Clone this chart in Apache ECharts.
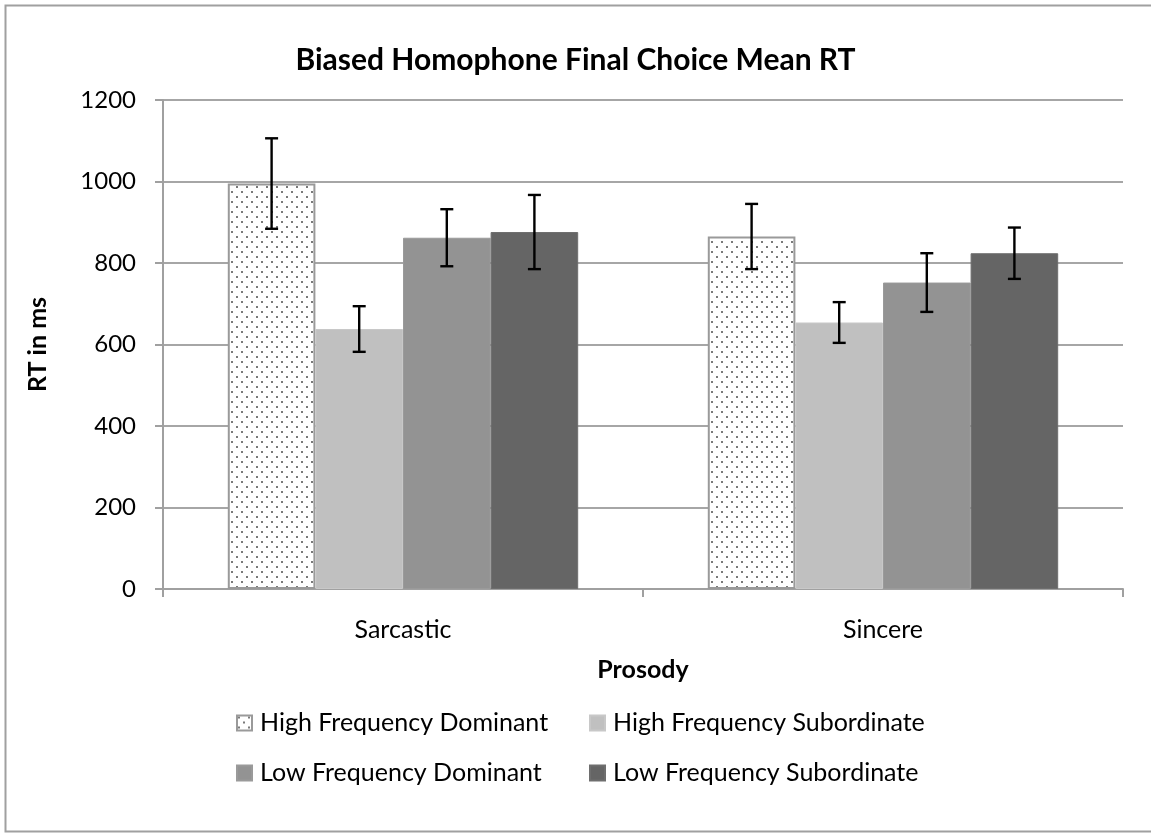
<!DOCTYPE html>
<html>
<head>
<meta charset="utf-8">
<script src="https://cdn.jsdelivr.net/npm/echarts@6/dist/echarts.min.js"></script>
<style>
html,body{margin:0;padding:0;background:#fff;}
#main{width:1151px;height:834px;}
</style>
</head>
<body>
<div id="main"></div>
<script>
// ---- data ----
const categories = ['Sarcastic', 'Sincere'];
const seriesNames = ['High Frequency Dominant', 'High Frequency Subordinate', 'Low Frequency Dominant', 'Low Frequency Subordinate'];
const hfdMean = [995, 865];
const hfsMean = [638, 654];
const lfdMean = [862, 752];
const lfsMean = [876, 824];
const hfdErr = [111, 80];
const hfsErr = [56, 50];
const lfdErr = [70, 72];
const lfsErr = [91, 63];
const yTicks = [0, 200, 400, 600, 800, 1000, 1200];

const means = [hfdMean, hfsMean, lfdMean, lfsMean];
const errs = [hfdErr, hfsErr, lfdErr, lfsErr];

const FONT = 'Lato, "Open Sans", sans-serif';

// dotted pattern
const pat = document.createElement('canvas');
pat.width = 10; pat.height = 10;
const pctx = pat.getContext('2d');
pctx.fillStyle = '#ffffff';
pctx.fillRect(0, 0, 10, 10);
pctx.fillStyle = '#7a7a7a';
pctx.fillRect(1, 1, 2, 2);
pctx.fillRect(6, 6, 2, 2);

const fills = [
  { image: pat, repeat: 'repeat' },
  '#c0c0c0',
  '#939393',
  '#656565'
];
const borders = ['#9a9a9a', '#c8c8c8', '#9a9a9a', '#6e6e6e'];

const CAT_GAP = 0.27;

const barSeries = seriesNames.map((name, i) => ({
  name: name,
  type: 'bar',
  data: means[i],
  barGap: '0%',
  barCategoryGap: (CAT_GAP * 100) + '%',
  itemStyle: {
    color: fills[i],
    borderColor: borders[i],
    borderWidth: i === 0 ? 2 : 1
  },
  z: 2
}));

const errData = [];
for (let s = 0; s < 4; s++) {
  for (let c = 0; c < categories.length; c++) {
    errData.push([c, means[s][c], errs[s][c], s]);
  }
}

const errSeries = {
  type: 'custom',
  name: 'err',
  data: errData,
  z: 10,
  silent: true,
  renderItem: function (params, api) {
    const c = api.value(0), m = api.value(1), e = api.value(2), s = api.value(3);
    const catW = api.size([1, 0])[0];
    const totalW = catW * (1 - CAT_GAP);
    const bw = totalW / 4;
    const center = api.coord([c, m]);
    const x = center[0] - totalW / 2 + bw * (s + 0.5);
    const top = api.coord([c, m + e])[1];
    const bot = api.coord([c, m - e])[1];
    const cap = 6.5;
    const style = { stroke: '#000', lineWidth: 2.4, fill: null };
    return {
      type: 'group',
      children: [
        { type: 'line', shape: { x1: x, y1: top, x2: x, y2: bot }, style: style },
        { type: 'line', shape: { x1: x - cap, y1: top, x2: x + cap, y2: top }, style: style },
        { type: 'line', shape: { x1: x - cap, y1: bot, x2: x + cap, y2: bot }, style: style }
      ]
    };
  }
};

const chart = echarts.init(document.getElementById('main'), null, { renderer: 'canvas' });

const legendCommon = {
  orient: 'vertical',
  itemWidth: 15,
  itemHeight: 15,
  itemGap: 20,
  icon: 'rect',
  textStyle: { fontFamily: FONT, fontSize: 25, lineHeight: 30, color: '#000', padding: [0, 0, 0, 3] },
  selectedMode: false
};

chart.setOption({
  animation: false,
  backgroundColor: '#fff',
  textStyle: { fontFamily: FONT },
  title: {
    text: 'Biased Homophone Final Choice Mean RT',
    left: 'center',
    top: 40,
    textStyle: { fontFamily: FONT, fontSize: 30, fontWeight: 'bold', color: '#000' }
  },
  graphic: [{
    type: 'rect',
    shape: { x: 5.5, y: 5.5, width: 1160, height: 826 },
    style: { fill: null, stroke: '#a0a0a0', lineWidth: 2 },
    silent: true,
    z: -1
  }],
  legend: [
    Object.assign({}, legendCommon, { left: 231, top: 703, data: [seriesNames[0], seriesNames[2]] }),
    Object.assign({}, legendCommon, { left: 584, top: 703, data: [seriesNames[1], seriesNames[3]] })
  ],
  grid: { left: 163, right: 28, top: 100, bottom: 245, containLabel: false },
  xAxis: {
    type: 'category',
    data: categories,
    name: 'Prosody',
    nameLocation: 'middle',
    nameGap: 68,
    nameTextStyle: { fontFamily: FONT, fontSize: 25, fontWeight: 'bold', color: '#000' },
    axisLine: { lineStyle: { color: '#a0a0a0', width: 2 } },
    axisTick: { show: true, length: 8, lineStyle: { color: '#a0a0a0', width: 2 }, alignWithLabel: false },
    axisLabel: { fontFamily: FONT, fontSize: 25, color: '#000', margin: 28 }
  },
  yAxis: {
    type: 'value',
    min: yTicks[0],
    max: yTicks[yTicks.length - 1],
    interval: 200,
    name: 'RT in ms',
    nameLocation: 'middle',
    nameGap: 113,
    nameRotate: 90,
    nameTextStyle: { fontFamily: FONT, fontSize: 25, fontWeight: 'bold', color: '#000' },
    axisLine: { show: true, lineStyle: { color: '#a0a0a0', width: 2 } },
    axisTick: { show: true, length: 8, lineStyle: { color: '#a0a0a0', width: 2 } },
    axisLabel: { fontFamily: FONT, fontSize: 24, color: '#000', margin: 27, formatter: v => String(v) },
    splitLine: { show: true, lineStyle: { color: '#a6a6a6', width: 2 } }
  },
  series: barSeries.concat([errSeries])
});
</script>
</body>
</html>
